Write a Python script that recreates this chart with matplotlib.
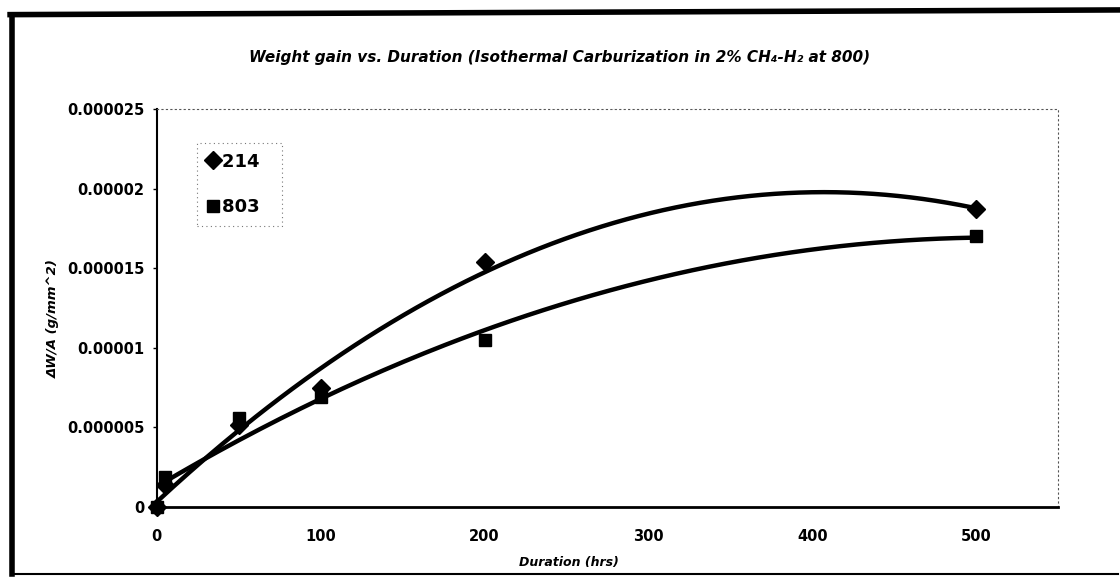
import numpy as np
import matplotlib.pyplot as plt
from matplotlib.lines import Line2D

plt.rcParams['font.family'] = ['DejaVu Sans']
plt.rcParams['font.weight'] = 'bold'

# data
hours = [0, 5, 50, 100, 200, 500]
gain_214 = [0.0, 1.4e-6, 5.15e-6, 7.5e-6, 1.54e-5, 1.87e-5]
gain_803 = [0.0, 1.9e-6, 5.6e-6, 6.9e-6, 1.05e-5, 1.70e-5]
series = [("214", gain_214, "D", 9), ("803", gain_803, "s", 8)]

xticks = [0, 100, 200, 300, 400, 500]
yticks = [0, 0.000005, 0.00001, 0.000015, 0.00002, 0.000025]
ytick_labels = ["0", "0.000005", "0.00001", "0.000015", "0.00002", "0.000025"]

fig = plt.figure(figsize=(11.2, 5.85), dpi=100)
ax = fig.add_axes([0.140, 0.1333, 0.805, 0.6804])

xs = np.linspace(0, 500, 200)
handles = []
for name, vals, mk, ms in series:
    # excel style 2nd order polynomial trendline
    coef = np.polyfit(hours, vals, 2)
    ax.plot(xs, np.polyval(coef, xs), color="black", lw=3.2, solid_capstyle="round", zorder=2)
    ax.plot(hours, vals, linestyle="none", marker=mk, ms=ms, color="black", zorder=3, clip_on=False)
    handles.append(Line2D([], [], linestyle="none", marker=mk, ms=ms, color="black", label=name + "  "))

ax.set_xlim(0, 550)
ax.set_ylim(0, 0.000025)
ax.set_xticks(xticks)
ax.set_xticklabels([str(t) for t in xticks])
ax.set_yticks(yticks)
ax.set_yticklabels(ytick_labels)
ax.tick_params(axis="both", labelsize=10.5, length=3, width=1, direction="out", pad=6)
ax.tick_params(axis="x", length=0, pad=16)

for side in ["top", "right"]:
    ax.spines[side].set_linestyle((0, (1, 3)))
    ax.spines[side].set_linewidth(0.8)
    ax.spines[side].set_color("#555555")
ax.spines["left"].set_linewidth(1.5)
ax.spines["bottom"].set_linewidth(2)

leg = ax.legend(handles=handles, loc="upper left", bbox_to_anchor=(0.045, 0.915),
                handlelength=0.6, handletextpad=0.2, labelspacing=1.5,
                borderpad=0.55, borderaxespad=0, frameon=True, fancybox=False,
                prop={"weight": "bold", "size": 13})
leg.get_frame().set_linestyle((0, (1, 3)))
leg.get_frame().set_edgecolor("#555555")
leg.get_frame().set_linewidth(0.8)

fig.text(0.5, 0.901, "Weight gain vs. Duration (Isothermal Carburization in 2% CH₄-H₂ at 800)",
         ha="center", va="center", fontsize=11, fontweight="bold", style="italic")
fig.text(0.508, 0.039, "Duration (hrs)", ha="center", va="center",
         fontsize=9, fontweight="bold", style="italic")
fig.text(0.048, 0.456, "ΔW/A (g/mm^2)", ha="center", va="center", rotation=90,
         fontsize=9.5, fontweight="bold", style="italic")

# scanned page frame
fig.add_artist(Line2D([0.011, 0.011], [0.018, 0.975], color="black", lw=4, transform=fig.transFigure))
fig.add_artist(Line2D([0.009, 0.998], [0.975, 0.983], color="black", lw=4, transform=fig.transFigure))
fig.add_artist(Line2D([0.011, 0.998], [0.018, 0.018], color="black", lw=1.5, transform=fig.transFigure))

fig.savefig("out.png", dpi=100)
